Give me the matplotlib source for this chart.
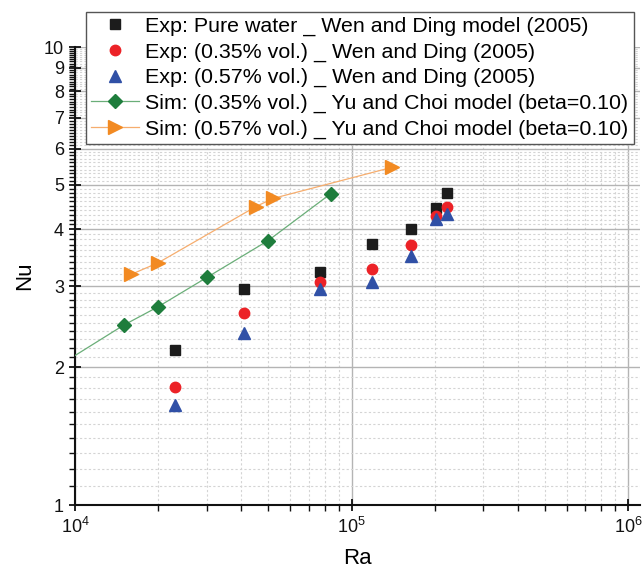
import numpy as np
import matplotlib
matplotlib.use("Agg")
import matplotlib.pyplot as plt
from matplotlib.ticker import FixedLocator, LogLocator, NullFormatter, FuncFormatter


# Experimental data (Wen and Ding, 2005)
exp_ra = [2.3e4, 4.1e4, 7.7e4, 1.19e5, 1.64e5, 2.02e5, 2.21e5]
exp_water_nu = [2.18, 2.96, 3.23, 3.71, 4.01, 4.44, 4.79]
exp_035_nu = [1.81, 2.62, 3.07, 3.27, 3.69, 4.28, 4.48]
exp_057_nu = [1.65, 2.37, 2.96, 3.07, 3.50, 4.21, 4.32]

# Simulation, 0.35% vol. (first point is where the trend line starts, no marker)
sim035_ra = [1.0e4, 1.5e4, 2.0e4, 3.0e4, 5.0e4, 8.4e4]
sim035_nu = [2.12, 2.47, 2.71, 3.14, 3.78, 4.78]

# Simulation, 0.57% vol.
sim057_ra = [1.6e4, 2.0e4, 4.5e4, 5.2e4, 1.4e5]
sim057_nu = [3.19, 3.38, 4.48, 4.67, 5.46]

labels = [
    "Exp: Pure water _ Wen and Ding model (2005)",
    "Exp: (0.35% vol.) _ Wen and Ding (2005)",
    "Exp: (0.57% vol.) _ Wen and Ding (2005)",
    "Sim: (0.35% vol.) _ Yu and Choi model (beta=0.10)",
    "Sim: (0.57% vol.) _ Yu and Choi model (beta=0.10)",
]

plt.rcParams["font.family"] = ["Liberation Sans", "DejaVu Sans"]
plt.rcParams["mathtext.default"] = "regular"

fig = plt.figure(figsize=(6.44, 5.73), dpi=100)
ax = fig.add_axes([75 / 644, 68 / 573, 565 / 644, 458 / 573])

h1, = ax.plot(exp_ra, exp_water_nu, ls="none", marker="s", ms=6.5,
              color="#1c1c1c", label=labels[0], zorder=4)
h2, = ax.plot(exp_ra, exp_035_nu, ls="none", marker="o", ms=7.5,
              color="#ec2227", label=labels[1], zorder=4)
h3, = ax.plot(exp_ra, exp_057_nu, ls="none", marker="^", ms=8.5,
              color="#3050a6", label=labels[2], zorder=4)
h4, = ax.plot(sim035_ra, sim035_nu, ls="-", lw=0.9, color="#6aae78",
              marker="D", ms=7, mfc="#1e7d3c", mec="#1e7d3c",
              markevery=slice(1, None), label=labels[3], zorder=3)
h5, = ax.plot(sim057_ra, sim057_nu, ls="-", lw=0.9, color="#f6ad6e",
              marker=">", ms=9.5, mfc="#f28a22", mec="#f28a22",
              label=labels[4], zorder=3)

ax.set_xscale("log")
ax.set_yscale("log")
ax.set_xlim(1e4, 1.105e6)
ax.set_ylim(1, 10)

ax.xaxis.set_major_locator(LogLocator(base=10, numticks=10))
ax.xaxis.set_minor_locator(LogLocator(base=10, subs=np.arange(2, 10), numticks=20))
ax.xaxis.set_minor_formatter(NullFormatter())

ax.yaxis.set_major_locator(FixedLocator(np.arange(1, 11)))
ax.yaxis.set_minor_locator(FixedLocator(np.arange(1.1, 10.0, 0.1)))
ax.yaxis.set_major_formatter(FuncFormatter(lambda v, p: f"{v:.0f}"))
ax.yaxis.set_minor_formatter(NullFormatter())

ax.grid(True, which="major", color="#b4b4b4", lw=1.0, ls="-")
ax.grid(True, which="minor", color="#d4d4d4", lw=0.8, ls=(0, (2, 2)))
ax.set_axisbelow(True)

for side in ["top", "right"]:
    ax.spines[side].set_visible(False)
for side in ["left", "bottom"]:
    ax.spines[side].set_linewidth(1.5)
    ax.spines[side].set_color("#111111")

ax.tick_params(which="major", direction="inout", length=9, width=1.3,
               labelsize=13, colors="#111111")
ax.tick_params(which="minor", direction="out", length=4, width=1.0,
               colors="#111111")
ax.tick_params(axis="x", which="major", pad=4)

ax.set_xlabel("Ra", fontsize=16, labelpad=8)
ax.set_ylabel("Nu", fontsize=16, labelpad=6)

leg = ax.legend(handles=[h1, h2, h3, h4, h5], loc="upper left",
                bbox_to_anchor=(86 / 644, 1 - 11.5 / 573),
                bbox_transform=fig.transFigure, fontsize=15.4,
                frameon=True, fancybox=False, framealpha=1,
                edgecolor="#555555", borderpad=0.25, labelspacing=0.3,
                handlelength=2.25, handletextpad=0.28, borderaxespad=0)
leg.get_frame().set_linewidth(1.0)

fig.savefig("out.png", dpi=100)
